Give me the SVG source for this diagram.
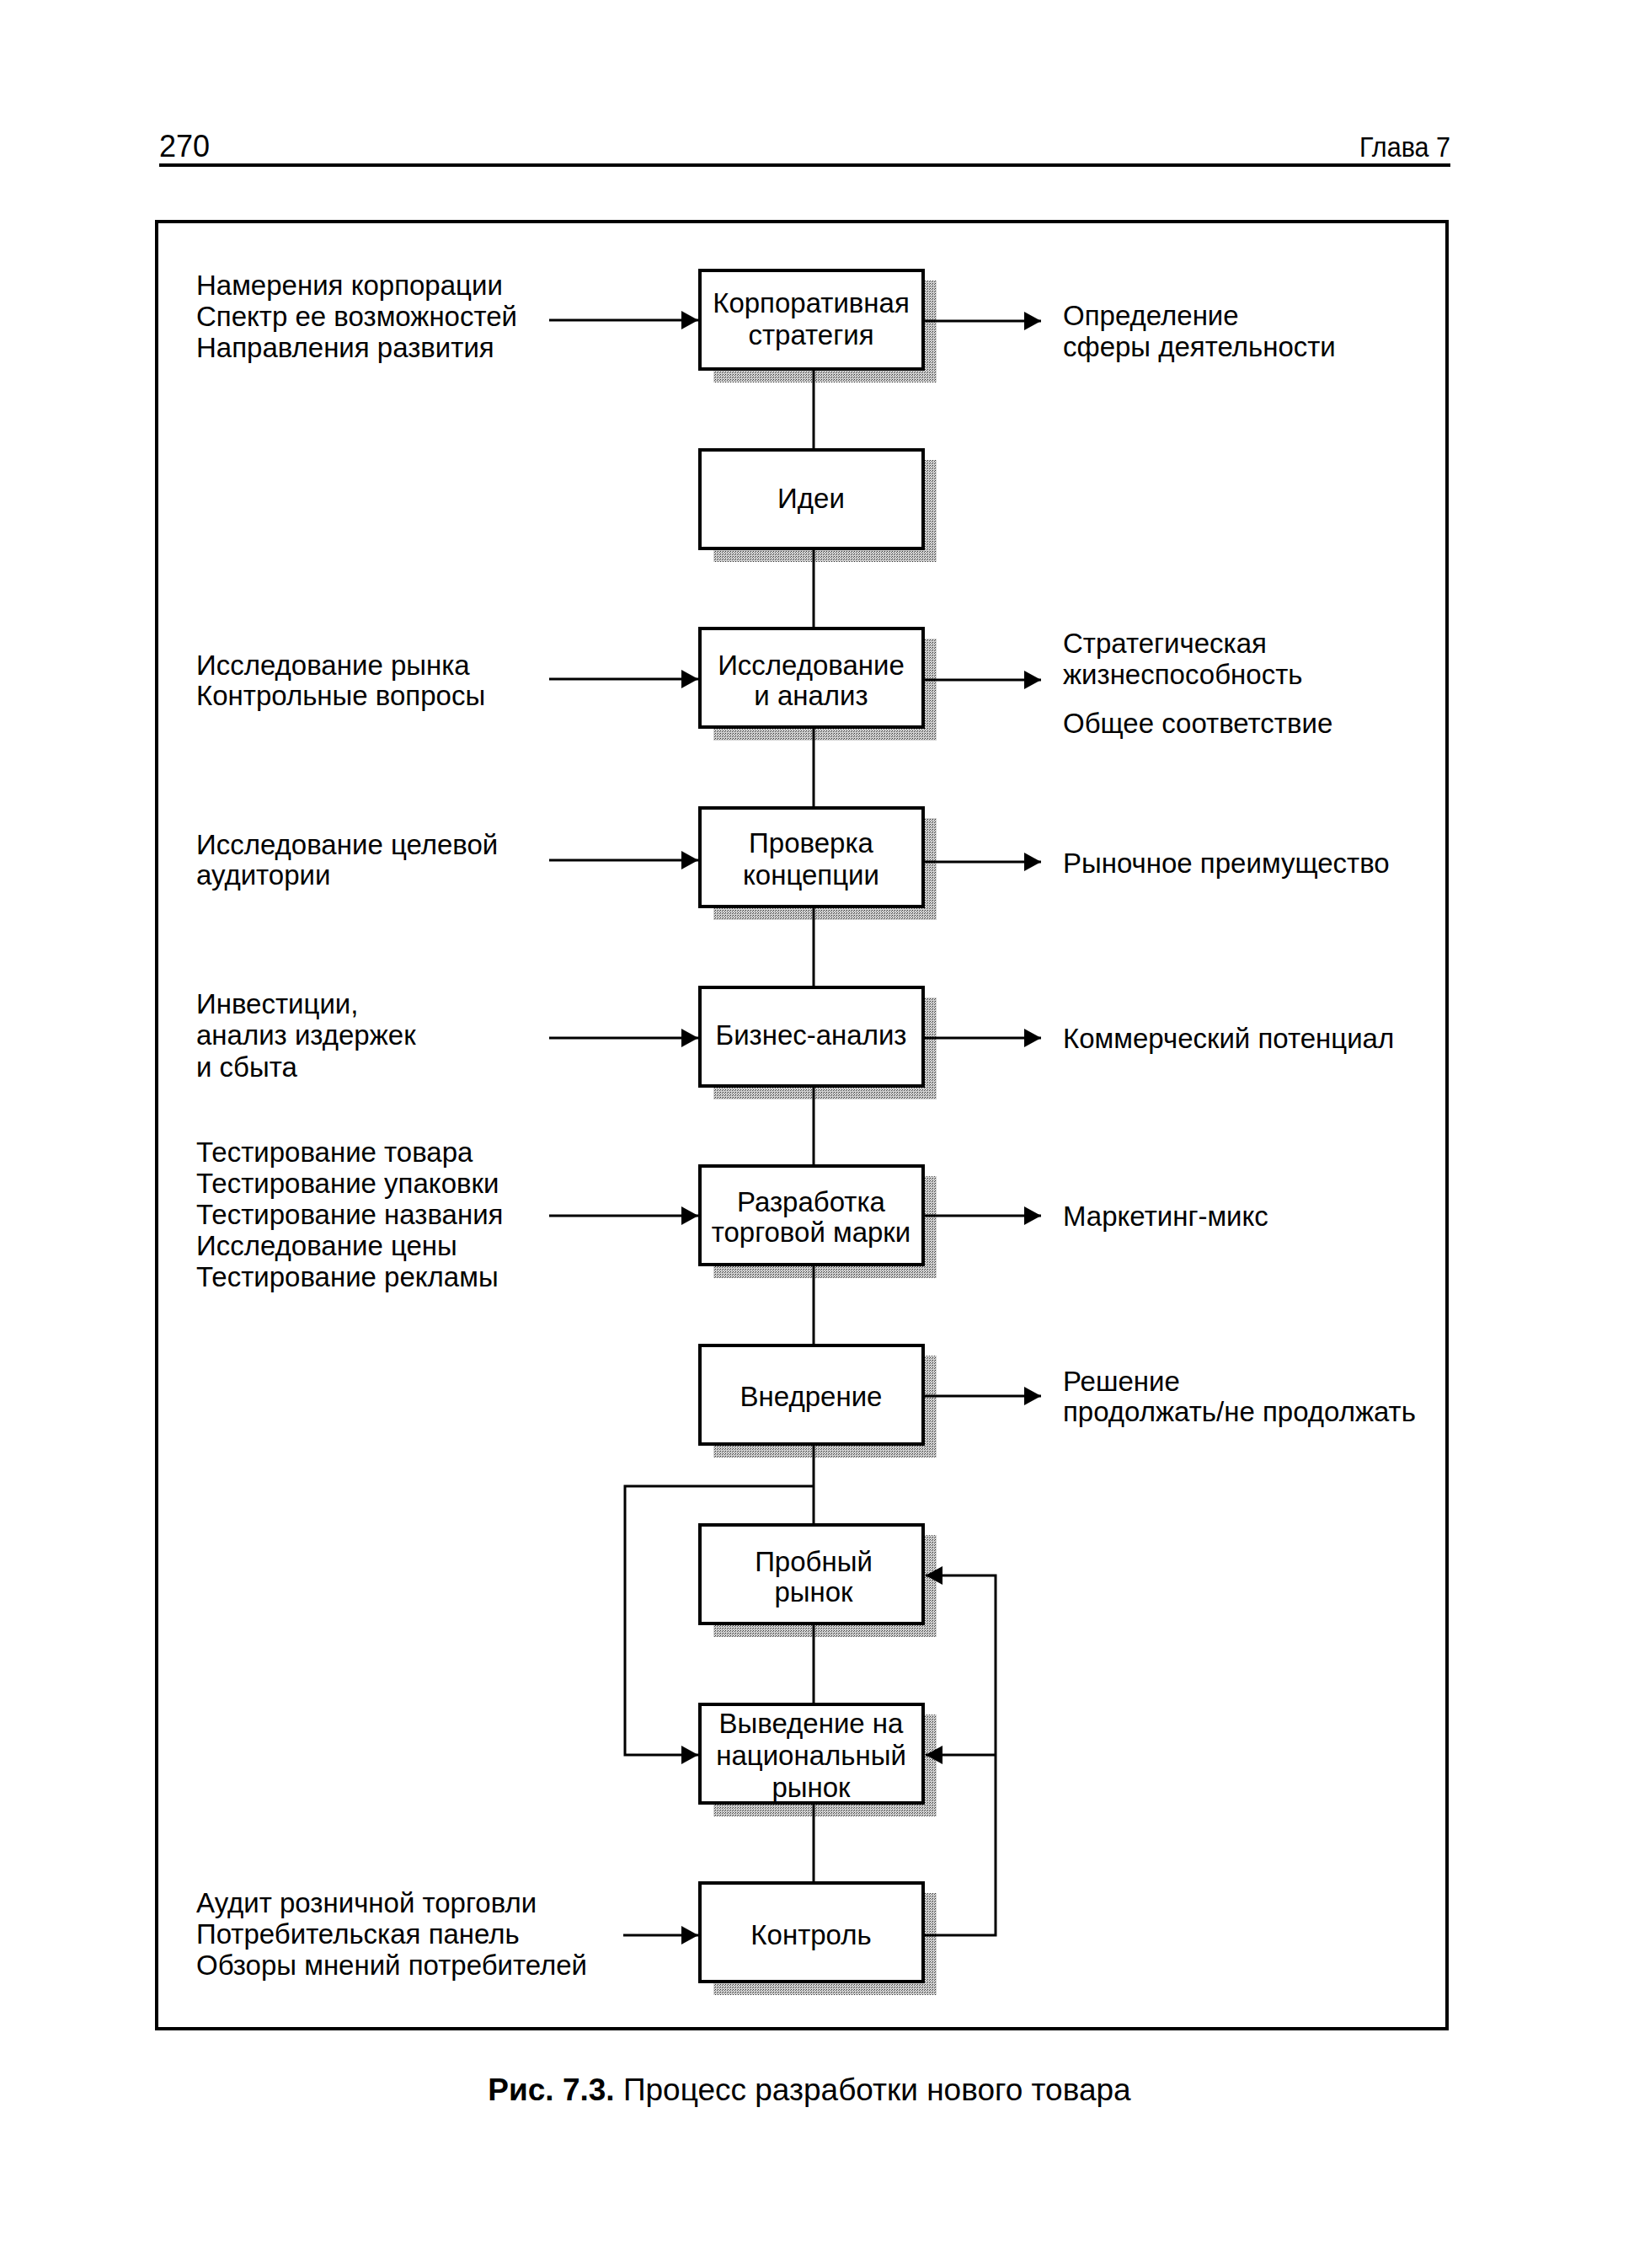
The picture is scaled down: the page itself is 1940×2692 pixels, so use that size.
<svg xmlns="http://www.w3.org/2000/svg" width="1940" height="2692" viewBox="0 0 1940 2692">
<defs>
<pattern id="dots" width="3" height="3" patternUnits="userSpaceOnUse">
<rect width="3" height="3" fill="#d0d0d0"/>
<rect x="0" y="0" width="1" height="1" fill="#333"/>
<rect x="2" y="1" width="1" height="1" fill="#555"/>
</pattern>
<marker id="ah" viewBox="0 0 20 22" refX="20" refY="11" markerWidth="20" markerHeight="22" markerUnits="userSpaceOnUse" orient="auto">
<path d="M0,0 L20,11 L0,22 z" fill="#000"/>
</marker>
<style>
text{font-family:"Liberation Sans",Arial,sans-serif;fill:#000}
.t{font-size:33px}
.c{font-size:33px;text-anchor:middle}
.box{fill:#fff;stroke:#000;stroke-width:4}
.sh{fill:url(#dots)}
.ln{fill:none;stroke:#000;stroke-width:3}
.ar{fill:none;stroke:#000;stroke-width:3;marker-end:url(#ah)}
</style>
</defs>
<rect width="1940" height="2692" fill="#fff"/>
<g id="header">
<text x="189" y="186" style="font-size:36px">270</text>
<text x="1722" y="186" style="font-size:34px;text-anchor:end" textLength="108" lengthAdjust="spacingAndGlyphs">Глава 7</text>
<line x1="189" y1="196" x2="1722" y2="196" stroke="#000" stroke-width="4"/>
</g>
<rect id="frame" x="186" y="263" width="1532" height="2145" fill="none" stroke="#000" stroke-width="4"/>
<g id="shadows">
<rect class="sh" x="847" y="333" width="265" height="121"/>
<rect class="sh" x="847" y="546" width="265" height="121"/>
<rect class="sh" x="847" y="758" width="265" height="121"/>
<rect class="sh" x="847" y="971" width="265" height="121"/>
<rect class="sh" x="847" y="1184" width="265" height="121"/>
<rect class="sh" x="847" y="1396" width="265" height="121"/>
<rect class="sh" x="847" y="1609" width="265" height="121"/>
<rect class="sh" x="847" y="1822" width="265" height="121"/>
<rect class="sh" x="847" y="2035" width="265" height="121"/>
<rect class="sh" x="847" y="2247" width="265" height="121"/>
</g>
<g id="connectors">
<line class="ln" x1="966" y1="438" x2="966" y2="534"/>
<line class="ln" x1="966" y1="651" x2="966" y2="746"/>
<line class="ln" x1="966" y1="863" x2="966" y2="959"/>
<line class="ln" x1="966" y1="1076" x2="966" y2="1172"/>
<line class="ln" x1="966" y1="1289" x2="966" y2="1384"/>
<line class="ln" x1="966" y1="1501" x2="966" y2="1597"/>
<line class="ln" x1="966" y1="1714" x2="966" y2="1810"/>
<line class="ln" x1="966" y1="1927" x2="966" y2="2023"/>
<line class="ln" x1="966" y1="2140" x2="966" y2="2235"/>
<line class="ar" x1="652" y1="380" x2="829" y2="380"/>
<line class="ar" x1="652" y1="806" x2="829" y2="806"/>
<line class="ar" x1="652" y1="1021" x2="829" y2="1021"/>
<line class="ar" x1="652" y1="1232" x2="829" y2="1232"/>
<line class="ar" x1="652" y1="1443" x2="829" y2="1443"/>
<line class="ar" x1="740" y1="2297" x2="829" y2="2297"/>
<line class="ar" x1="1098" y1="381" x2="1236" y2="381"/>
<line class="ar" x1="1098" y1="807" x2="1236" y2="807"/>
<line class="ar" x1="1098" y1="1023" x2="1236" y2="1023"/>
<line class="ar" x1="1098" y1="1232" x2="1236" y2="1232"/>
<line class="ar" x1="1098" y1="1443" x2="1236" y2="1443"/>
<line class="ar" x1="1098" y1="1657" x2="1236" y2="1657"/>
<polyline class="ar" points="966,1764 742,1764 742,2083 829,2083"/>
<polyline class="ar" points="1098,2297 1182,2297 1182,1870 1099,1870"/>
<line class="ar" x1="1182" y1="2083" x2="1099" y2="2083"/>
</g>
<g id="n1"><rect class="box" x="831" y="321" width="265" height="117"/><text class="c" x="963" y="371">Корпоративная</text><text class="c" x="963" y="409">стратегия</text></g>
<g id="n2"><rect class="box" x="831" y="534" width="265" height="117"/><text class="c" x="963" y="603">Идеи</text></g>
<g id="n3"><rect class="box" x="831" y="746" width="265" height="117"/><text class="c" x="963" y="801">Исследование</text><text class="c" x="963" y="837">и анализ</text></g>
<g id="n4"><rect class="box" x="831" y="959" width="265" height="117"/><text class="c" x="963" y="1012">Проверка</text><text class="c" x="963" y="1050">концепции</text></g>
<g id="n5"><rect class="box" x="831" y="1172" width="265" height="117"/><text class="c" x="963" y="1240">Бизнес-анализ</text></g>
<g id="n6"><rect class="box" x="831" y="1384" width="265" height="117"/><text class="c" x="963" y="1438">Разработка</text><text class="c" x="963" y="1474">торговой марки</text></g>
<g id="n7"><rect class="box" x="831" y="1597" width="265" height="117"/><text class="c" x="963" y="1669">Внедрение</text></g>
<g id="n8"><rect class="box" x="831" y="1810" width="265" height="117"/><text class="c" x="966" y="1865">Пробный</text><text class="c" x="966" y="1901">рынок</text></g>
<g id="n9"><rect class="box" x="831" y="2023" width="265" height="117"/><text class="c" x="963" y="2057">Выведение на</text><text class="c" x="963" y="2095">национальный</text><text class="c" x="963" y="2133">рынок</text></g>
<g id="n10"><rect class="box" x="831" y="2235" width="265" height="117"/><text class="c" x="963" y="2308">Контроль</text></g>
<g id="left-labels">
<text class="t" x="233" y="350">Намерения корпорации</text>
<text class="t" x="233" y="387">Спектр ее возможностей</text>
<text class="t" x="233" y="424">Направления развития</text>
<text class="t" x="233" y="801">Исследование рынка</text>
<text class="t" x="233" y="837">Контрольные вопросы</text>
<text class="t" x="233" y="1014">Исследование целевой</text>
<text class="t" x="233" y="1050">аудитории</text>
<text class="t" x="233" y="1203">Инвестиции,</text>
<text class="t" x="233" y="1240">анализ издержек</text>
<text class="t" x="233" y="1278">и сбыта</text>
<text class="t" x="233" y="1379">Тестирование товара</text>
<text class="t" x="233" y="1416">Тестирование упаковки</text>
<text class="t" x="233" y="1453">Тестирование названия</text>
<text class="t" x="233" y="1490">Исследование цены</text>
<text class="t" x="233" y="1527">Тестирование рекламы</text>
<text class="t" x="233" y="2270">Аудит розничной торговли</text>
<text class="t" x="233" y="2307">Потребительская панель</text>
<text class="t" x="233" y="2344">Обзоры мнений потребителей</text>
</g>
<g id="right-labels">
<text class="t" x="1262" y="386">Определение</text>
<text class="t" x="1262" y="423">сферы деятельности</text>
<text class="t" x="1262" y="775">Стратегическая</text>
<text class="t" x="1262" y="812">жизнеспособность</text>
<text class="t" x="1262" y="870">Общее соответствие</text>
<text class="t" x="1262" y="1036">Рыночное преимущество</text>
<text class="t" x="1262" y="1244">Коммерческий потенциал</text>
<text class="t" x="1262" y="1455">Маркетинг-микс</text>
<text class="t" x="1262" y="1651">Решение</text>
<text class="t" x="1262" y="1687">продолжать/не продолжать</text>
</g>
<text id="caption" x="961" y="2493" style="font-size:37px;text-anchor:middle"><tspan font-weight="bold">Рис. 7.3.</tspan> Процесс разработки нового товара</text>
</svg>
